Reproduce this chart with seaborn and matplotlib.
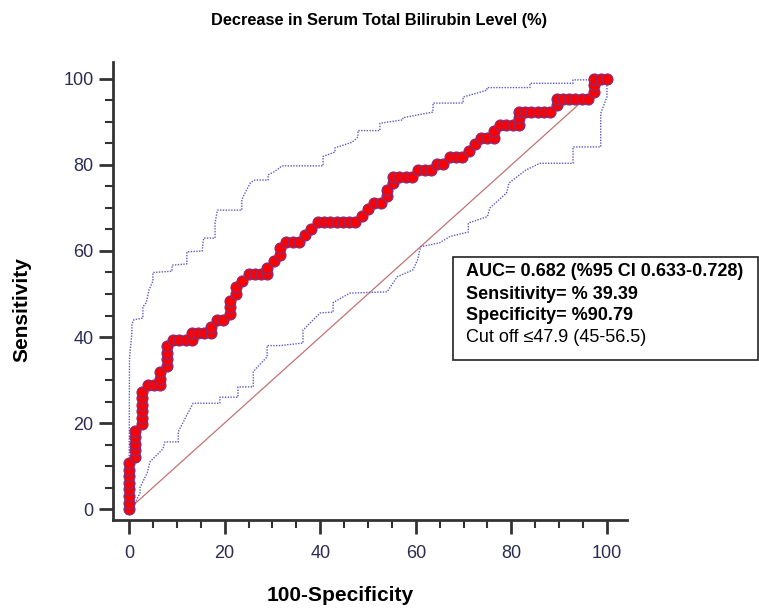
import numpy as np
import pandas as pd
import matplotlib
matplotlib.use("Agg")
import matplotlib.pyplot as plt
import seaborn as sns
from matplotlib.ticker import MultipleLocator
from matplotlib.patches import Rectangle

# ---------------- data ----------------
N_NEG = 76   # negatives (specificity 69/76 = 90.79 %)
N_POS = 66   # positives (sensitivity 26/66 = 39.39 %)

fp_count = [0, 0, 0, 0, 0, 0, 0, 0,
            1, 1, 1, 1, 1,
            2, 2, 2, 2, 2, 2,
            3, 4, 5,
            5, 5, 6, 6, 6, 6,
            7, 8, 9, 10,
            10, 11, 12, 13,
            13, 14, 15,
            16, 16, 16,
            17, 17, 18,
            19, 20, 21, 22,
            22, 23, 24, 24,
            25, 26, 27,
            28, 29,
            30, 31, 32, 33, 34, 35, 36,
            37, 38, 39, 40, 41, 41, 42,
            42, 43, 44, 45,
            46, 47, 48,
            49, 50,
            51, 52, 53,
            54,
            55, 56, 57, 58,
            58, 59, 60, 61, 62,
            62,
            62, 63, 64, 65, 66, 67,
            68,
            68, 69, 70, 71, 72, 73,
            74, 74,
            74, 75, 76]
tp_count = [0, 1, 2, 3, 4, 5, 6, 7,
            8, 9, 10, 11, 12,
            13, 14, 15, 16, 17, 18,
            19, 19, 19,
            20, 21, 22, 23, 24, 25,
            26, 26, 26, 26,
            27, 27, 27, 27,
            28, 29, 29,
            30, 31, 32,
            33, 34, 35,
            36, 36, 36, 36,
            37, 38, 39, 40,
            41, 41, 41,
            42, 43,
            44, 44, 44, 44, 44, 44, 44,
            45, 46, 47, 47, 48, 49, 50,
            51, 51, 51, 51,
            52, 52, 52,
            53, 53,
            54, 54, 54,
            55,
            56, 57, 57, 57,
            58, 59, 59, 59, 59,
            60,
            61, 61, 61, 61, 61, 61,
            62,
            63, 63, 63, 63, 63, 63,
            64, 65,
            66, 66, 66]

upper_x = [0, 0.1, 0.6, 0.6, 1.0, 2.9, 2.9, 3.6, 4.2, 5.0, 5.0, 9.0, 9.0,
           12.1, 12.1, 15.3, 15.6, 18.0, 18.0, 18.5, 23.6, 23.6, 24.5, 25.5,
           26.4, 29.1, 29.1, 30.5, 32.0, 40.6, 40.6, 43.1, 43.1, 46.7, 47.9,
           47.9, 52.5, 52.5, 57.3, 57.3, 63.6, 63.6, 69.9, 69.9, 74.9, 74.9,
           83.9, 83.9, 92.9, 92.9, 97.9, 100]
upper_y = [0, 35, 41, 43, 44, 44.4, 47, 48, 51, 53, 55, 55.3, 56.7,
           57, 59.8, 60, 63, 63, 66.5, 69.5, 69.5, 72, 74, 76,
           76.5, 76.5, 77.7, 78.5, 79.8, 79.8, 82, 83, 84, 85.3, 86.5,
           88, 88, 89.7, 90.5, 91, 92.3, 94.4, 94.4, 95.8, 97.4, 98,
           98, 99, 99, 99.8, 99.8, 100]

lower_x = [0, 0.8, 2.3, 2.3, 3.8, 4.4, 7.1, 7.5, 10.3, 10.3, 13.4, 19.0,
           19.0, 22.8, 22.8, 26.0, 26.0, 28.9, 28.9, 31.6, 36.4, 36.4, 40.0,
           42.7, 42.7, 46.2, 54.0, 56.1, 59.4, 60.4, 61.0, 65.0, 67.2, 71.0,
           71.0, 75.0, 75.5, 79.0, 79.5, 83.0, 86.0, 92.9, 92.9, 98.7, 98.7,
           100, 100]
lower_y = [0, 0.5, 3.7, 5, 8.4, 11, 14, 15.6, 15.6, 18, 24.6, 24.6,
           26, 26, 28.4, 28.4, 32, 35.4, 38, 38, 38.6, 41.6, 45.6,
           45.8, 48, 50.2, 50.5, 54, 55.6, 58, 61, 61.9, 63.4, 64.4,
           66.5, 68, 70, 73.5, 75.8, 78.8, 80.4, 80.4, 84.2, 84.2, 92,
           95.8, 100]

diag_x = [0, 100]
diag_y = [0, 100]

x_ticks = [0, 20, 40, 60, 80, 100]
y_ticks = [0, 20, 40, 60, 80, 100]

title_text = "Decrease in Serum Total Bilirubin Level (%)"
x_label = "100-Specificity"
y_label = "Sensitivity"
box_lines = ["AUC= 0.682 (%95 CI 0.633-0.728)",
             "Sensitivity= % 39.39",
             "Specificity= %90.79",
             "Cut off \u226447.9 (45-56.5)"]
box_weights = ["bold", "bold", "bold", "normal"]

# ---------------- drawing ----------------
sns.set_style("ticks")
plt.rcParams["font.family"] = ["Liberation Sans", "DejaVu Sans"]
plt.rcParams["text.color"] = "black"
plt.rcParams["axes.labelcolor"] = "black"

fig = plt.figure(figsize=(7.59, 6.09), dpi=100)
ax = fig.add_axes([0.1489, 0.1461, 0.6772, 0.7521])

roc = pd.DataFrame({"fpr": np.array(fp_count) / N_NEG * 100,
                    "tpr": np.array(tp_count) / N_POS * 100})
diag = pd.DataFrame({"x": diag_x, "y": diag_y})
upper = pd.DataFrame({"x": upper_x, "y": upper_y})
lower = pd.DataFrame({"x": lower_x, "y": lower_y})

sns.lineplot(data=diag, x="x", y="y", ax=ax, color="#c47272", lw=0.9,
             sort=False, estimator=None)
for band in (upper, lower):
    sns.lineplot(data=band, x="x", y="y", ax=ax, color="#5c5cc4", lw=1.0,
                 linestyle=(0, (1, 1)), sort=False, estimator=None)
sns.lineplot(data=roc, x="fpr", y="tpr", ax=ax, color="#2233a0", lw=2,
             sort=False, estimator=None)
sns.scatterplot(data=roc, x="fpr", y="tpr", ax=ax, s=60, color="#ff0000",
                edgecolor="#8e2a70", linewidth=1, zorder=5)

ax.set_xlim(-3.35, 104.2)
ax.set_ylim(-2.56, 103.95)
ax.set_xticks(x_ticks)
ax.set_yticks(y_ticks)
ax.xaxis.set_minor_locator(MultipleLocator(5))
ax.yaxis.set_minor_locator(MultipleLocator(5))
sns.despine(ax=ax)
for s in ("left", "bottom"):
    ax.spines[s].set_linewidth(2)
    ax.spines[s].set_color("#333333")
ax.tick_params(which="major", direction="out", length=10, width=2,
               color="#333333", labelsize=13, labelcolor="#2b2b55")
ax.tick_params(which="minor", direction="out", length=6, width=1.5,
               color="#333333")
ax.tick_params(axis="x", which="major", pad=8)
ax.tick_params(axis="y", which="major", pad=4)

ax.set_xlabel(x_label, fontsize=15, fontweight="bold", va="center",
              color="black")
ax.xaxis.set_label_coords(0.4416, -0.164)
ax.set_ylabel(y_label, fontsize=15, fontweight="bold", va="center",
              ha="center", color="black")
ax.yaxis.set_label_coords(-0.177, 0.4585)

fig.text(0.5, 0.967, title_text, ha="center", va="center",
         fontsize=11.8, fontweight="bold", color="black")

fig.patches.append(Rectangle((0.5968, 0.4089), 0.4018, 0.1691,
                             transform=fig.transFigure, fill=False,
                             edgecolor="#222222", lw=1.2))
line_y = [272, 294, 316, 337]
for txt, w, py in zip(box_lines, box_weights, line_y):
    fig.text(466 / 759, 1 - py / 609, txt, ha="left", va="center",
             fontsize=13, fontweight=w, color="black")

fig.savefig("out.png", dpi=100)
